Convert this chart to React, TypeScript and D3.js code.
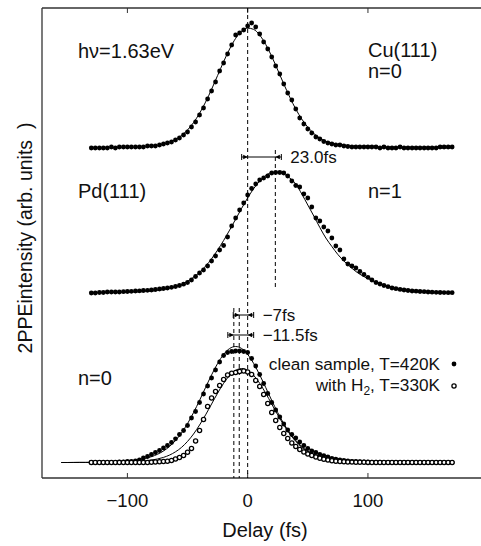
import React from "react";
import * as d3 from "d3";

// ---------- data ----------
const delays = [
  -130, -126.7, -123.3, -120, -116.7, -113.3, -110, -106.7, -103.3, -100,
  -96.7, -93.3, -90, -86.7, -83.3, -80, -76.7, -73.3, -70, -66.7,
  -63.3, -60, -56.7, -53.3, -50, -46.7, -43.3, -40, -36.7, -33.3,
  -30, -26.7, -23.3, -20, -16.7, -13.3, -10, -6.7, -3.3, 0,
  3.3, 6.7, 10, 13.3, 16.7, 20, 23.3, 26.7, 30, 33.3,
  36.7, 40, 43.3, 46.7, 50, 53.3, 56.7, 60, 63.3, 66.7,
  70, 73.3, 76.7, 80, 83.3, 86.7, 90, 93.3, 96.7, 100,
  103.3, 106.7, 110, 113.3, 116.7, 120, 123.3, 126.7, 130, 133.3,
  136.7, 140, 143.3, 146.7, 150, 153.3, 156.7, 160, 163.3, 166.7,
  170,
];

// Cu(111) n=0
const cuN0 = [
  0, 0, 0, 0, 0, 0.01, 0, 0.01, 0.01, 0.01,
  0.01, 0.01, 0.01, 0.01, 0.02, 0.02, 0.02, 0.03, 0.04, 0.05,
  0.06, 0.08, 0.1, 0.13, 0.16, 0.21, 0.26, 0.33, 0.4, 0.49,
  0.57, 0.66, 0.77, 0.85, 0.94, 1.03, 1.13, 1.15, 1.18, 1.22,
  1.25, 1.21, 1.14, 1.06, 0.99, 0.91, 0.82, 0.74, 0.64, 0.55,
  0.48, 0.39, 0.3, 0.24, 0.19, 0.15, 0.11, 0.09, 0.065, 0.05,
  0.04, 0.03, 0.03, 0.02, 0.015, 0.01, 0.01, 0.01, 0.01, 0.01,
  0.01, 0.01, 0, 0.01, 0, 0, 0, 0.01, 0, 0,
  0, 0, 0, 0, 0, 0, 0, 0.01, 0.01, 0.01,
  0.01,
];

// Pd(111) n=1
const pdN1 = [
  0, 0, 0.005, 0.005, 0.01, 0.01, 0.01, 0.01, 0.013, 0.015,
  0.017, 0.02, 0.022, 0.025, 0.027, 0.03, 0.035, 0.04, 0.045, 0.05,
  0.057, 0.065, 0.075, 0.088, 0.105, 0.13, 0.165, 0.2, 0.23, 0.27,
  0.32, 0.37, 0.43, 0.475, 0.56, 0.67, 0.75, 0.83, 0.9, 0.98,
  1.045, 1.09, 1.13, 1.15, 1.17, 1.2, 1.205, 1.205, 1.2, 1.17,
  1.12, 1.075, 1.06, 0.99, 0.95, 0.86, 0.75, 0.72, 0.66, 0.62,
  0.55, 0.47, 0.43, 0.34, 0.29, 0.27, 0.25, 0.215, 0.185, 0.157,
  0.13, 0.105, 0.09, 0.075, 0.063, 0.05, 0.043, 0.036, 0.03, 0.025,
  0.02, 0.018, 0.015, 0.013, 0.01, 0.008, 0.007, 0.005, 0.004, 0.003,
  0.003,
];

// Pd(111) n=0, clean sample T=420K
const pdCleanN0 = [
  0, 0, 0, 0, 0, 0, 0, 0.005, 0.005, 0.01,
  0.01, 0.015, 0.025, 0.045, 0.06, 0.08, 0.1, 0.12, 0.145, 0.17,
  0.2, 0.237, 0.28, 0.32, 0.37, 0.445, 0.51, 0.6, 0.685, 0.765,
  0.845, 0.925, 1.005, 1.07, 1.1, 1.11, 1.115, 1.115, 1.11, 1.1,
  1.04, 0.965, 0.88, 0.79, 0.69, 0.6, 0.525, 0.455, 0.385, 0.325,
  0.28, 0.245, 0.205, 0.17, 0.14, 0.115, 0.1, 0.08, 0.068, 0.055,
  0.042, 0.033, 0.025, 0.02, 0.015, 0.012, 0.01, 0.008, 0.006, 0.005,
  0.004, 0.003, 0.003, 0.002, 0.002, 0.002, 0.001, 0, 0, 0,
  0, 0, 0, 0, 0, 0, 0, 0, 0, 0,
  0,
];

// Pd(111) n=0, with H2 T=330K
const pdH2N0 = [
  0, 0, 0, 0, 0, 0, 0, 0, 0, 0,
  0, 0, 0, 0, 0, 0.003, 0.005, 0.007, 0.01, 0.013,
  0.02, 0.035, 0.05, 0.07, 0.103, 0.14, 0.215, 0.32, 0.43, 0.56,
  0.645, 0.71, 0.77, 0.83, 0.875, 0.893, 0.9, 0.91, 0.915, 0.905,
  0.88, 0.82, 0.76, 0.68, 0.59, 0.5, 0.42, 0.35, 0.29, 0.24,
  0.195, 0.16, 0.13, 0.105, 0.085, 0.07, 0.055, 0.043, 0.033, 0.025,
  0.018, 0.013, 0.01, 0.007, 0.005, 0.004, 0.003, 0.002, 0.002, 0.001,
  0, 0, 0, 0, 0, 0, 0, 0, 0, 0,
  0, 0, 0, 0, 0, 0, 0, 0, 0, 0,
  0,
];

// fit curves (solid lines)
const fitDelays = [
  -155, -150, -145, -140, -135, -130, -125, -120, -115, -110,
  -105, -100, -95, -90, -85, -80, -75, -70, -65, -60,
  -55, -50, -45, -40, -35, -30, -25, -20, -15, -10,
  -5, 0, 5, 10, 15, 20, 25, 30, 35, 40,
  45, 50, 55, 60, 65, 70, 75, 80, 85, 90,
  95, 100, 105, 110, 115, 120, 125, 130, 135, 140,
  145, 150, 155, 160, 165, 170,
];

const fitCu = [
  null, null, null, null, null, 0.001, 0.001, 0.002, 0.003, 0.004,
  0.004, 0.005, 0.007, 0.01, 0.013, 0.018, 0.026, 0.039, 0.057, 0.085,
  0.125, 0.181, 0.254, 0.347, 0.459, 0.587, 0.725, 0.863, 0.99, 1.096,
  1.168, 1.199, 1.186, 1.129, 1.036, 0.916, 0.78, 0.641, 0.509, 0.389,
  0.289, 0.208, 0.145, 0.1, 0.067, 0.045, 0.031, 0.021, 0.015, 0.011,
  0.008, 0.006, 0.005, 0.004, 0.003, 0.002, 0.002, 0.001, 0.001, 0.001,
  0.001, 0.001, 0, 0, 0, 0,
];

const fitPdN1 = [
  null, null, null, null, null, 0.002, 0.003, 0.003, 0.004, 0.005,
  0.006, 0.007, 0.009, 0.011, 0.014, 0.019, 0.025, 0.034, 0.047, 0.064,
  0.087, 0.117, 0.157, 0.207, 0.269, 0.343, 0.429, 0.525, 0.629, 0.738,
  0.847, 0.951, 1.044, 1.12, 1.175, 1.205, 1.208, 1.19, 1.15, 1.09,
  0.99, 0.88, 0.77, 0.655, 0.55, 0.465, 0.385, 0.32, 0.265, 0.215,
  0.175, 0.145, 0.115, 0.09, 0.07, 0.055, 0.042, 0.032, 0.024, 0.018,
  0.013, 0.01, 0.008, 0.006, 0.005, 0.004,
];

const fitClean = [
  0, 0, 0.001, 0.001, 0.001, 0.002, 0.003, 0.004, 0.005, 0.008,
  0.011, 0.015, 0.021, 0.029, 0.041, 0.058, 0.082, 0.115, 0.16, 0.22,
  0.296, 0.389, 0.499, 0.621, 0.75, 0.876, 0.99, 1.081, 1.14, 1.16,
  1.14, 1.081, 0.99, 0.876, 0.75, 0.621, 0.499, 0.389, 0.296, 0.22,
  0.16, 0.115, 0.082, 0.058, 0.041, 0.029, 0.021, 0.015, 0.011, 0.008,
  0.005, 0.004, 0.003, 0.002, 0.001, 0.001, 0.001, 0, 0, 0,
  0, 0, 0, 0, 0, 0,
];

const fitH2 = [
  0, 0, 0, 0.001, 0.001, 0.001, 0.002, 0.002, 0.003, 0.004,
  0.005, 0.007, 0.009, 0.013, 0.018, 0.025, 0.035, 0.051, 0.074, 0.107,
  0.151, 0.211, 0.285, 0.375, 0.476, 0.585, 0.693, 0.792, 0.871, 0.922,
  0.94, 0.922, 0.871, 0.792, 0.693, 0.585, 0.476, 0.375, 0.285, 0.211,
  0.151, 0.107, 0.074, 0.051, 0.035, 0.025, 0.018, 0.013, 0.009, 0.007,
  0.005, 0.004, 0.003, 0.002, 0.002, 0.001, 0.001, 0.001, 0, 0,
  0, 0, 0, 0, 0, 0,
];

// vertical offsets of the three traces (arb. units)
const baselines = [3.3, 1.85, 0.155];

const xTicks = [-100, 0, 100];
const xTickLabels = ["\u2212100", "0", "100"];

// marker lines: delay, from, to (arb. units)
const markerDelays = [0, 23, -7, -11.5];
const markerFrom = [0, 1.88, 0, 0];
const markerTo = [4.7, 3.28, 1.7, 1.7];

// shift annotations: left delay, right delay, level, label
const shiftLeft = [0, -7, -11.5];
const shiftRight = [23, 0, 0];
const shiftLevel = [3.21, 1.63, 1.43];
const shiftLabels = ["23.0fs", "\u22127fs", "\u221211.5fs"];

const FONT = "'Liberation Sans', Arial, Helvetica, sans-serif";

export default function App() {
  const W = 481;
  const H = 546;
  const x = d3.scaleLinear().domain([-171, 194]).range([42, 481]);
  const y = d3.scaleLinear().domain([0, 4.7]).range([478, 8]);

  const fitPath = (vals: (number | null)[], off: number) =>
    d3
      .line<number>()
      .defined((_, i) => vals[i] != null)
      .x((d) => x(d))
      .y((_, i) => y(off + (vals[i] as number)))
      .curve(d3.curveMonotoneX)(fitDelays) || "";

  const series = [
    { vals: cuN0, off: baselines[0], open: false },
    { vals: pdN1, off: baselines[1], open: false },
    { vals: pdCleanN0, off: baselines[2], open: false },
    { vals: pdH2N0, off: baselines[2], open: true },
  ];
  const fits = [
    { vals: fitCu, off: baselines[0] },
    { vals: fitPdN1, off: baselines[1] },
    { vals: fitClean, off: baselines[2] },
    { vals: fitH2, off: baselines[2] },
  ];

  const axisColor = "#333";
  const x0 = x.range()[0];
  const x1 = x.range()[1];
  const yTop = y.range()[1];
  const yBot = y.range()[0];

  const dim = (i: number) => {
    const xl = x(shiftLeft[i]);
    const xr = x(shiftRight[i]);
    const yy = y(shiftLevel[i]);
    const a = xl - 6;
    const b = xr + 6;
    return (
      <g key={"dim" + i}>
        <line x1={a} x2={b} y1={yy} y2={yy} stroke="#000" strokeWidth={1} />
        <line x1={a} x2={a} y1={yy - 3} y2={yy + 3} stroke="#000" strokeWidth={1} />
        <line x1={b} x2={b} y1={yy - 3} y2={yy + 3} stroke="#000" strokeWidth={1} />
        <polygon points={`${xl},${yy} ${xl - 4.5},${yy - 2.3} ${xl - 4.5},${yy + 2.3}`} fill="#000" />
        <polygon points={`${xr},${yy} ${xr + 4.5},${yy - 2.3} ${xr + 4.5},${yy + 2.3}`} fill="#000" />
        <text x={b + 9} y={yy + 6} fontSize={17} fontFamily={FONT} fill="#111">
          {shiftLabels[i]}
        </text>
      </g>
    );
  };

  return (
    <svg
      width={W}
      height={H}
      viewBox={`0 0 ${W} ${H}`}
      style={{ position: "absolute", left: 0, top: 0, background: "#fff" }}
    >
      <rect x={0} y={0} width={W} height={H} fill="#fff" />
      {/* frame */}
      <line x1={x0} x2={x1} y1={yTop} y2={yTop} stroke={axisColor} strokeWidth={1.3} />
      <line x1={x0} x2={x1} y1={yBot} y2={yBot} stroke={axisColor} strokeWidth={1.3} />
      <line x1={x0} x2={x0} y1={yTop} y2={yBot} stroke={axisColor} strokeWidth={1.3} />
      {xTicks.map((t, i) => (
        <g key={"t" + t}>
          <line x1={x(t)} x2={x(t)} y1={yBot} y2={yBot - 5} stroke={axisColor} strokeWidth={1} />
          <line x1={x(t)} x2={x(t)} y1={yTop} y2={yTop + 5} stroke={axisColor} strokeWidth={1} />
          <text x={x(t)} y={507} textAnchor="middle" fontSize={18.5} fontFamily={FONT} fill="#111">
            {xTickLabels[i]}
          </text>
        </g>
      ))}
      <text x={265} y={537} textAnchor="middle" fontSize={20} fontFamily={FONT} fill="#111">
        Delay (fs)
      </text>
      <text
        transform={`translate(32, 238) rotate(-90)`}
        textAnchor="middle"
        fontSize={19.5}
        fontFamily={FONT}
        fill="#111"
        style={{ whiteSpace: "pre" }}
      >
        {"2PPEintensity (arb. units  )"}
      </text>

      {/* dashed marker lines */}
      {markerDelays.map((d, i) => (
        <line
          key={"m" + i}
          x1={x(d)}
          x2={x(d)}
          y1={y(markerTo[i])}
          y2={y(markerFrom[i])}
          stroke="#000"
          strokeWidth={1}
          strokeDasharray="4,3"
        />
      ))}

      {/* fits */}
      {fits.map((f, i) => (
        <path key={"f" + i} d={fitPath(f.vals, f.off)} fill="none" stroke="#000" strokeWidth={1} />
      ))}

      {/* data points */}
      {series.map((s, si) => (
        <g key={"s" + si}>
          {delays.map((d, i) =>
            s.open ? (
              <circle
                key={i}
                cx={x(d)}
                cy={y(s.off + s.vals[i])}
                r={2.1}
                fill="#fff"
                stroke="#000"
                strokeWidth={1.3}
              />
            ) : (
              <circle key={i} cx={x(d)} cy={y(s.off + s.vals[i])} r={2.4} fill="#000" />
            )
          )}
        </g>
      ))}

      {/* shift annotations */}
      {[0, 1, 2].map((i) => dim(i))}

      {/* labels */}
      <g fontFamily={FONT} fill="#111" fontSize={20}>
        <text x={78} y={58}>{"h\u03bd=1.63eV"}</text>
        <text x={368} y={57}>Cu(111)</text>
        <text x={368} y={78}>n=0</text>
        <text x={78} y={198}>Pd(111)</text>
        <text x={368} y={198}>n=1</text>
        <text x={78} y={385}>n=0</text>
      </g>

      {/* legend */}
      <g fontFamily={FONT} fill="#111" fontSize={17.2}>
        <text x={440} y={370} textAnchor="end">
          clean sample, T=420K
        </text>
        <text x={440} y={391} textAnchor="end">
          with H<tspan dy={4} fontSize={12}>2</tspan>
          <tspan dy={-4}>, T=330K</tspan>
        </text>
      </g>
      <circle cx={454} cy={364} r={2.4} fill="#000" />
      <circle cx={454} cy={386} r={2.1} fill="#fff" stroke="#000" strokeWidth={1.3} />
    </svg>
  );
}
